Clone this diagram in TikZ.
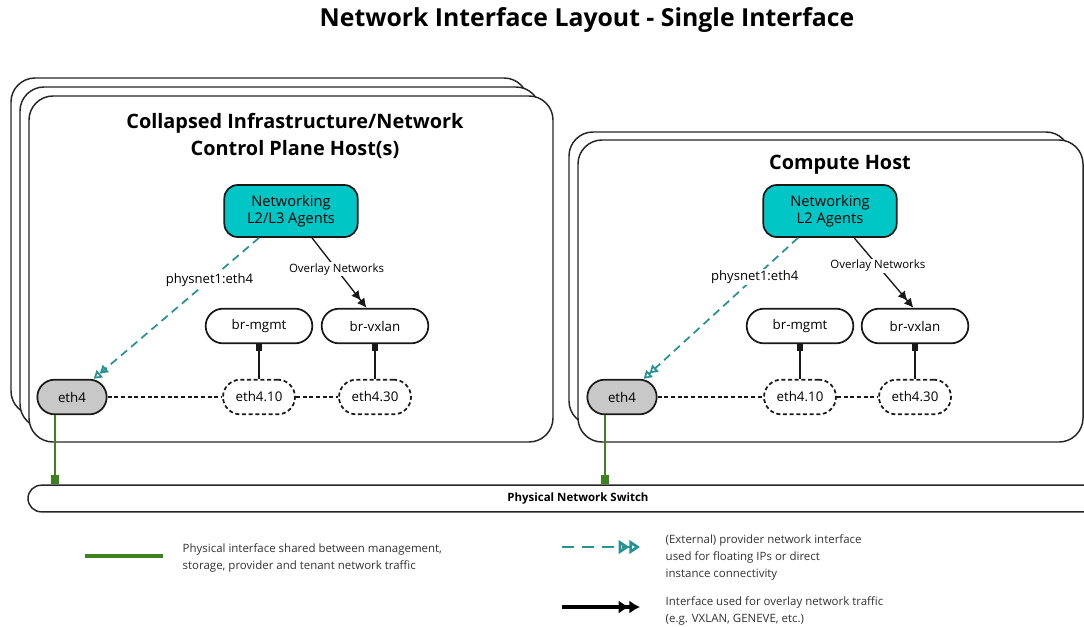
\documentclass[tikz,border=0pt]{standalone}
\usepackage{fontspec}
\setmainfont{Open Sans}
\usepackage{tikz}
\usetikzlibrary{arrows.meta,positioning}

\definecolor{agentfill}{RGB}{0,198,198}
\definecolor{provteal}{RGB}{38,146,146}
\definecolor{physgreen}{RGB}{62,130,32}
\definecolor{ethgray}{RGB}{200,200,200}
\definecolor{legtext}{RGB}{50,50,50}

\begin{document}
\begin{tikzpicture}[x=0.75pt,y=0.75pt,yscale=-1,xscale=1,
  hostbox/.style={draw=black!85, line width=1.1pt, fill=white, rounded corners=18pt},
  hosttitle/.style={align=center, font=\fontsize{14.9}{20}\selectfont\bfseries},
  agent/.style={draw=black!90, line width=1.3pt, fill=agentfill, rounded corners=10pt, minimum width=100pt, minimum height=39pt, align=center, font=\fontsize{11}{13}\selectfont},
  pill/.style={draw=black!90, line width=1.3pt, fill=white, rounded corners=13pt, minimum height=26pt, font=\fontsize{10}{12}\selectfont},
  bridge/.style={pill, minimum width=80pt},
  vlan/.style={pill, dash pattern=on 3pt off 2pt, minimum width=54pt},
  phys/.style={pill, fill=ethgray, minimum width=52pt},
  overlay/.style={draw=black!90, line width=1pt, -{Latex[length=7pt,width=7pt]Latex[length=7pt,width=7pt]}},
  provider/.style={draw=provteal, line width=1.3pt, dash pattern=on 6pt off 4pt, -{Triangle[open,length=6pt,width=7pt]Triangle[open,length=6pt,width=7pt]}},
  trunk/.style={draw=black!90, line width=0.9pt, dash pattern=on 3pt off 2pt},
  vlink/.style={draw=black!90, line width=1.2pt, {Square[length=5pt,width=5pt]}-},
  uplink/.style={draw=physgreen, line width=1.8pt, -{Square[length=7pt,width=6pt]}},
  linklabel/.style={fill=white, inner sep=1pt, font=\fontsize{9.8}{11}\selectfont},
  ovlabel/.style={fill=white, inner sep=1pt, font=\fontsize{8.6}{10}\selectfont},
  legend/.style={anchor=west, align=left, text=legtext, font=\fontsize{8.6}{12.75}\selectfont}]

  \clip (0,0) rectangle (1084,626);

  \node[font=\fontsize{18.6}{22}\selectfont\bfseries] (title) at (587,20) {Network Interface Layout - Single Interface};

  % control plane hosts (stack)
  \draw[hostbox] (11,78) rectangle (528,415);
  \draw[hostbox] (20,87) rectangle (540,428);
  \draw[hostbox] (29,96) rectangle (553,442);
  \node[hosttitle] (cph) at (295,136) {Collapsed Infrastructure/Network\\Control Plane Host(s)};

  % compute hosts (stack)
  \draw[hostbox] (569,132) rectangle (1070,425);
  \draw[hostbox] (578,140) rectangle (1083,442);
  \node[hosttitle] (cmp) at (840,165) {Compute Host};

  % control plane nodes
  \node[agent] (ag1) at (291,211) {Networking\\L2/L3 Agents};
  \node[bridge] (bm1) at (259,326) {br-mgmt};
  \node[bridge] (bv1) at (375,326) {br-vxlan};
  \node[phys] (e1) at (72,397) {eth4};
  \node[vlan] (va1) at (259,397) {eth4.10};
  \node[vlan] (vb1) at (375,397) {eth4.30};

  % compute nodes
  \node[agent] (ag2) at (830,211) {Networking\\L2 Agents};
  \node[bridge] (bm2) at (800,326) {br-mgmt};
  \node[bridge] (bv2) at (915,326) {br-vxlan};
  \node[phys] (e2) at (622,397) {eth4};
  \node[vlan] (va2) at (800,397) {eth4.10};
  \node[vlan] (vb2) at (915,397) {eth4.30};

  % switch
  \node[draw=black!85, line width=1.1pt, fill=white, rounded corners=10pt, minimum width=825pt, minimum height=20pt, font=\fontsize{8.6}{10}\selectfont\bfseries] (sw) at (578,498.5) {Physical Network Switch};

  % links
  \draw[provider] (ag1.-140) -- node[linklabel, pos=0.3] {physnet1:eth4} (e1.40);
  \draw[overlay] (ag1.-52) -- node[ovlabel, pos=0.45] {Overlay Networks} (bv1.115);
  \draw[trunk] (e1) -- (va1);
  \draw[trunk] (va1) -- (vb1);
  \draw[vlink] (bm1) -- (va1);
  \draw[vlink] (bv1) -- (vb1);

  \draw[provider] (ag2.-140) -- node[linklabel, pos=0.28] {physnet1:eth4} (e2.40);
  \draw[overlay] (ag2.-48) -- node[ovlabel, pos=0.4] {Overlay Networks} (bv2.95);
  \draw[trunk] (e2) -- (va2);
  \draw[trunk] (va2) -- (vb2);
  \draw[vlink] (bm2) -- (va2);
  \draw[vlink] (bv2) -- (vb2);

  \draw[uplink] ([xshift=-12.75pt]e1.south) -- ([xshift=-12.75pt]e1.south |- sw.north);
  \draw[uplink] ([xshift=-12.75pt]e2.south) -- ([xshift=-12.75pt]e2.south |- sw.north);

  % legend
  \coordinate (lg1a) at (85,556);  \coordinate (lg1b) at (163,556);
  \coordinate (lg2a) at (562,547); \coordinate (lg2b) at (640,547);
  \coordinate (lg3a) at (562,607); \coordinate (lg3b) at (640,607);
  \draw[draw=physgreen, line width=3pt] (lg1a) -- (lg1b);
  \draw[draw=provteal, line width=2.2pt, dash pattern=on 9pt off 6pt, -{Triangle[open,length=8pt,width=10pt]Triangle[open,length=8pt,width=10pt]}] (lg2a) -- (lg2b);
  \draw[draw=black, line width=2.6pt, -{Latex[length=8pt,width=10pt]Latex[length=8pt,width=10pt]}] (lg3a) -- (lg3b);
  \node[legend] (lt1) at (178,558) {Physical interface shared between management,\\storage, provider and tenant network traffic};
  \node[legend] (lt2) at (661,557) {(External) provider network interface\\used for floating IPs or direct\\instance connectivity};
  \node[legend] (lt3) at (661,611) {Interface used for overlay network traffic\\(e.g. VXLAN, GENEVE, etc.)};
\end{tikzpicture}
\end{document}
